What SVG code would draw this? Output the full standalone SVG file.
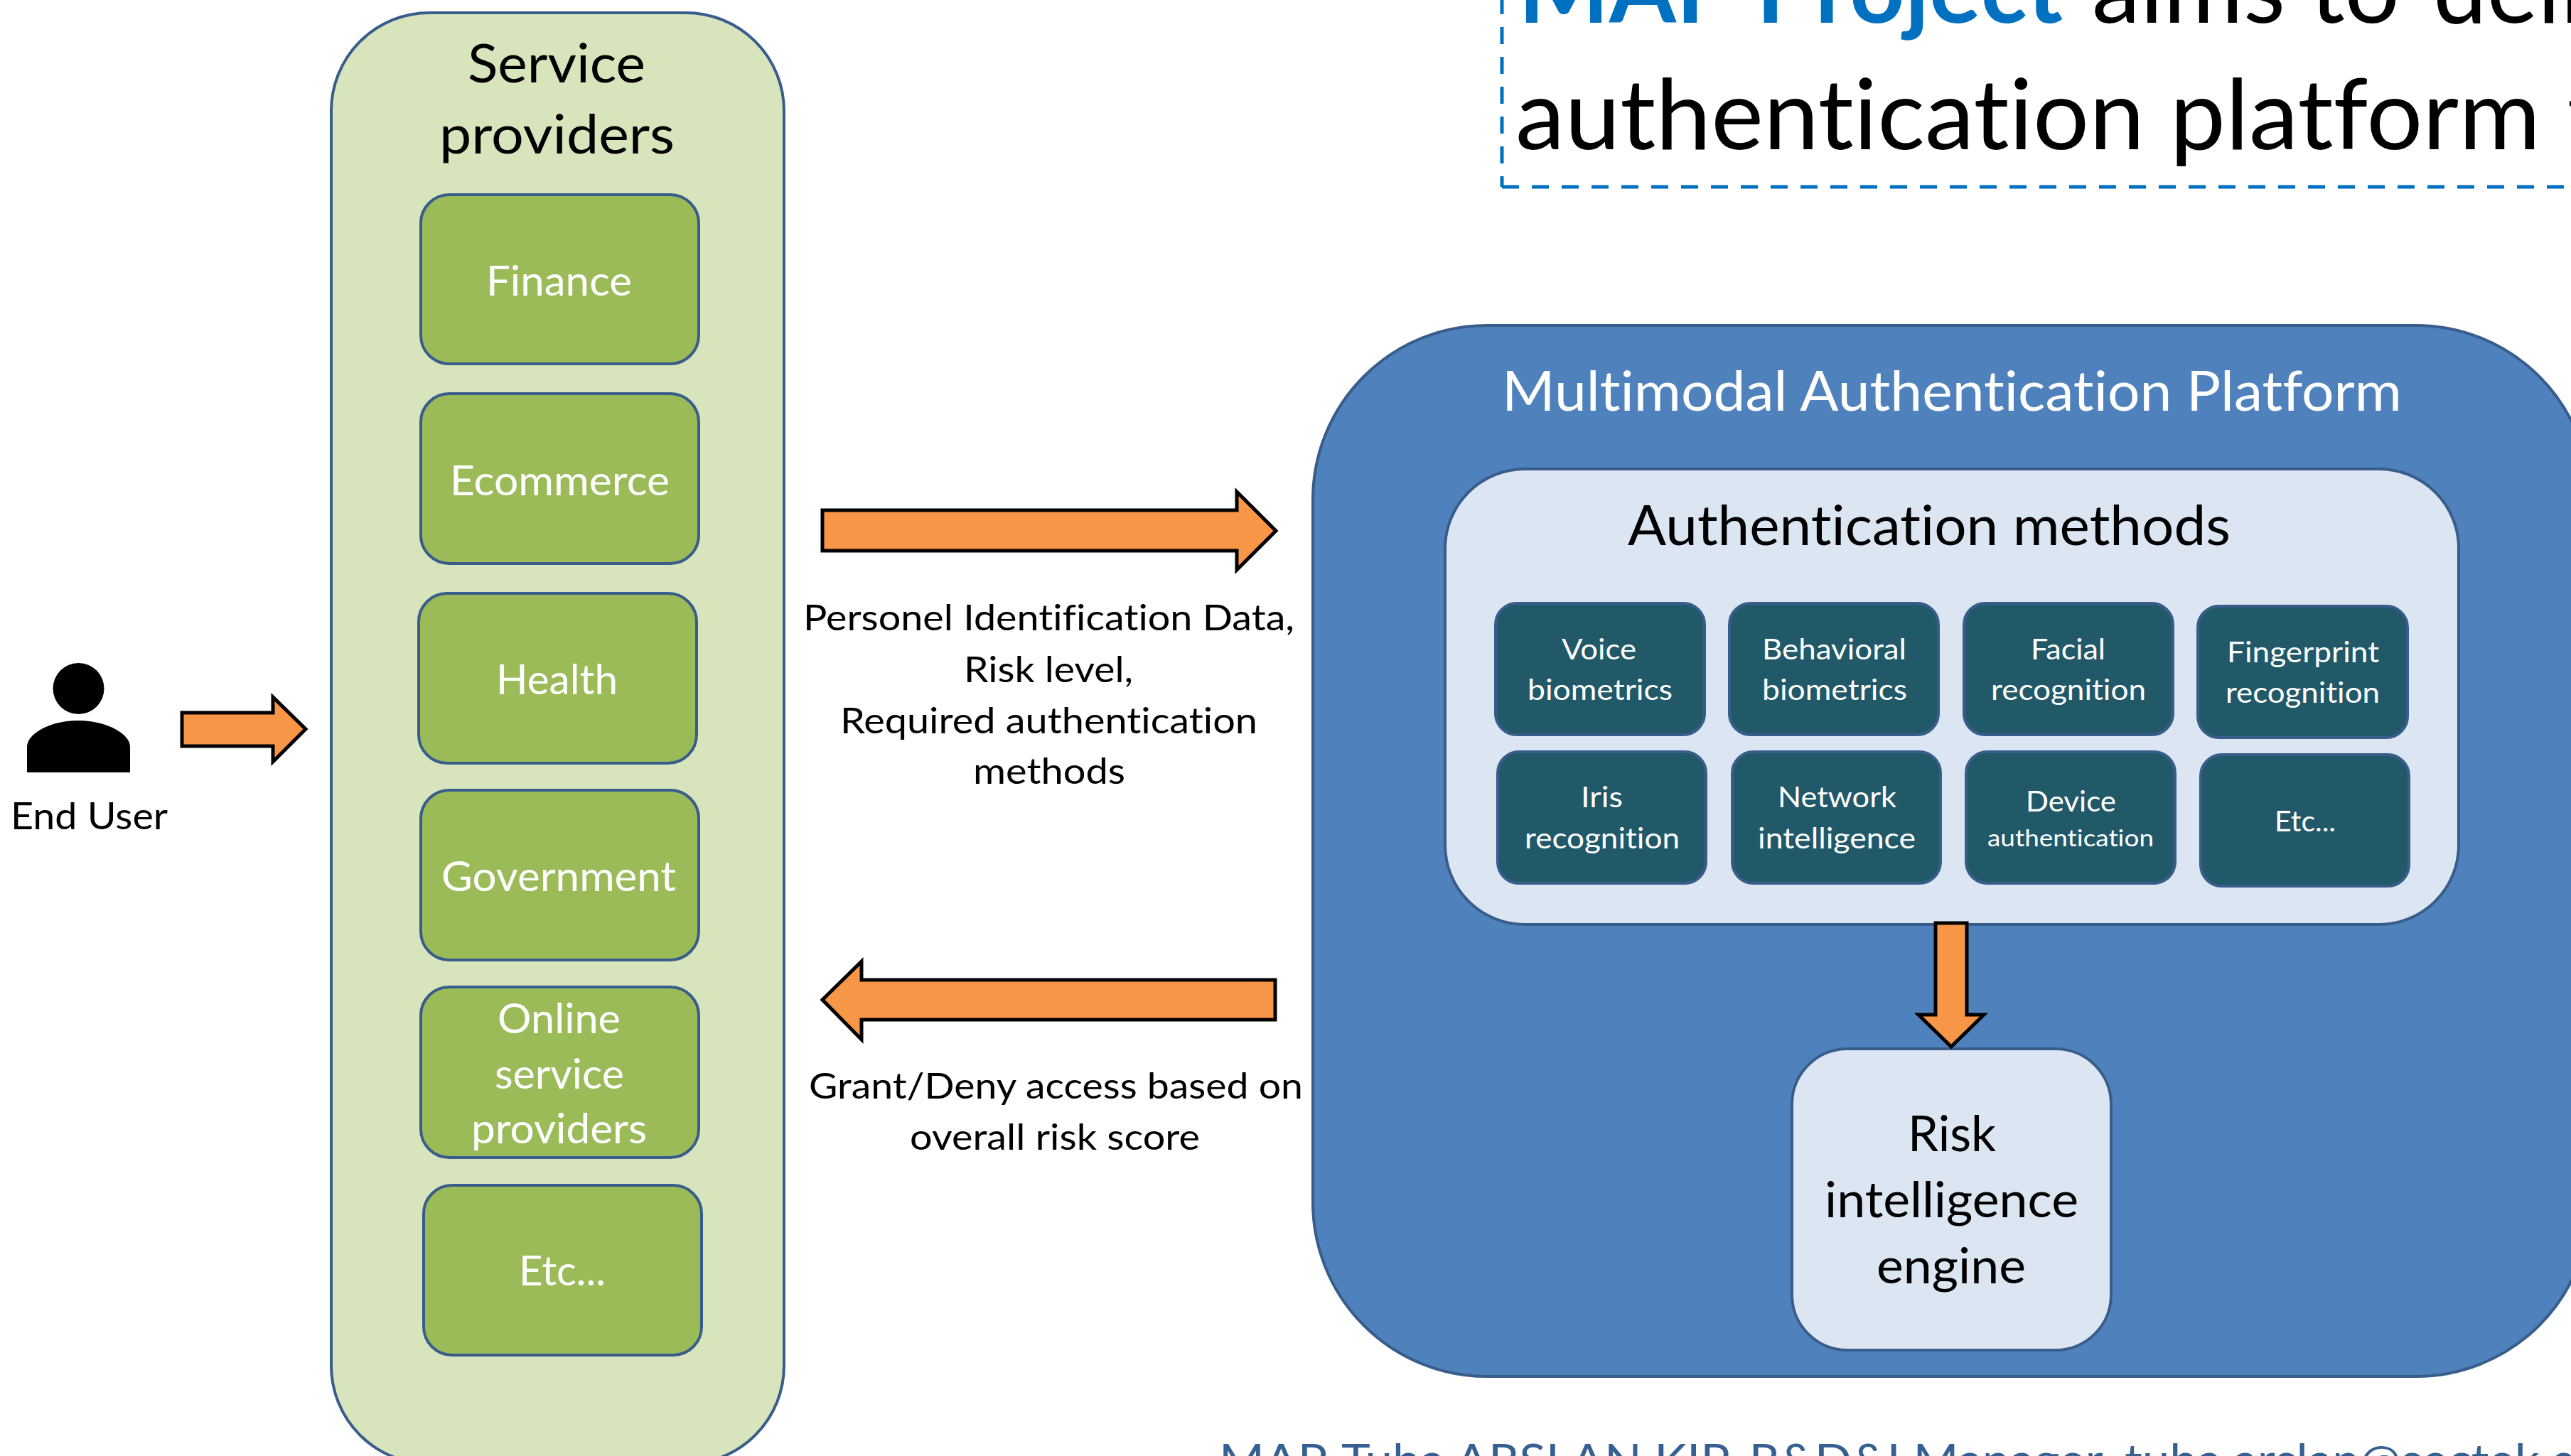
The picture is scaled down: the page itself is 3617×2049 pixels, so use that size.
<svg xmlns="http://www.w3.org/2000/svg" width="3617" height="2049" viewBox="0 0 3617 2049">
<style>
text{font-family:"Lato","Carlito","Noto Sans",sans-serif;fill:#000;font-variant-ligatures:none;font-feature-settings:"liga" 0,"clig" 0}
.w{fill:#fff}
.panel{stroke:#385d8a;stroke-width:4}
.green{fill:#9bbb59;stroke:#385d8a;stroke-width:4}
.teal{fill:#215968;stroke:#385d8a;stroke-width:4}
.light{fill:#dce6f2;stroke:#385d8a;stroke-width:4}
.arrow{fill:#f79646;stroke:#000;stroke-width:5}
.g{font-size:58px}
.t{font-size:41px}
.s{font-size:51px}
.dash{fill:none;stroke:#0070c0;stroke-width:5;stroke-dasharray:24 18}
</style>
<rect width="3617" height="2049" fill="#fff"/>
<g id="title">
<path class="dash" d="M2113 -4V263"/>
<path class="dash" d="M2113 263H3640"/>
<text x="2136" y="32" font-size="138" font-weight="700" style="fill:#0070c0" textLength="766" lengthAdjust="spacingAndGlyphs">MAP Project</text>
<text x="2943" y="32" font-size="138" textLength="433" lengthAdjust="spacingAndGlyphs">aims to</text>
<text x="3423" y="32" font-size="138" textLength="400" lengthAdjust="spacingAndGlyphs">deliver</text>
<text x="2132" y="210" font-size="138" textLength="1442" lengthAdjust="spacingAndGlyphs">authentication platform</text>
<text x="3612" y="210" font-size="138">that</text>
</g>
<g id="end-user">
<ellipse cx="110.500" cy="969" rx="36" ry="36"/>
<path d="M38 1087V1051C38 1032 72 1014 110 1014C148 1014 183 1032 183 1051V1087Z"/>
<text x="15" y="1167" font-size="53" textLength="221" lengthAdjust="spacingAndGlyphs">End User</text>
</g>
<g id="service-providers">
<rect x="466" y="18" width="637" height="2042" rx="138" fill="#d8e4bc" class="panel"/>
<text x="658" y="116" font-size="75" textLength="250" lengthAdjust="spacingAndGlyphs">Service</text>
<text x="618" y="216" font-size="75" textLength="331" lengthAdjust="spacingAndGlyphs">providers</text>
</g>
<g id="finance"><rect x="592" y="274" width="391" height="238" rx="40" class="green"/><text class="w g" x="684" y="416" textLength="205" lengthAdjust="spacingAndGlyphs">Finance</text></g>
<g id="ecommerce"><rect x="592" y="554" width="391" height="239" rx="40" class="green"/><text class="w g" x="633" y="697" textLength="309" lengthAdjust="spacingAndGlyphs">Ecommerce</text></g>
<g id="health"><rect x="589" y="835" width="391" height="239" rx="40" class="green"/><text class="w g" x="698" y="977" textLength="171" lengthAdjust="spacingAndGlyphs">Health</text></g>
<g id="government"><rect x="592" y="1112" width="391" height="239" rx="40" class="green"/><text class="w g" x="621" y="1254" textLength="330" lengthAdjust="spacingAndGlyphs">Government</text></g>
<g id="online"><rect x="592" y="1389" width="391" height="240" rx="40" class="green"/>
<text class="w g" x="700" y="1454" textLength="173" lengthAdjust="spacingAndGlyphs">Online</text>
<text class="w g" x="696" y="1532" textLength="182" lengthAdjust="spacingAndGlyphs">service</text>
<text class="w g" x="663" y="1609" textLength="247" lengthAdjust="spacingAndGlyphs">providers</text></g>
<g id="etc-service"><rect x="596" y="1668" width="391" height="239" rx="40" class="green"/><text class="w g" x="730" y="1809" textLength="122" lengthAdjust="spacingAndGlyphs">Etc...</text></g>
<g id="platform">
<rect x="1847" y="458" width="1797" height="1479" rx="245" fill="#4f81bd" class="panel"/>
<text class="w" x="2113" y="578" font-size="78" textLength="1266" lengthAdjust="spacingAndGlyphs">Multimodal Authentication Platform</text>
</g>
<g id="auth-methods">
<rect x="2033" y="660" width="1426" height="641" rx="112" class="light"/>
<text x="2290" y="767" font-size="77" textLength="848" lengthAdjust="spacingAndGlyphs">Authentication methods</text>
</g>
<g id="voice"><rect x="2104" y="849" width="294" height="185" rx="30" class="teal"/><text class="w t" x="2197" y="928" textLength="105" lengthAdjust="spacingAndGlyphs">Voice</text><text class="w t" x="2149" y="985" textLength="204" lengthAdjust="spacingAndGlyphs">biometrics</text></g>
<g id="behavioral"><rect x="2433" y="849" width="294" height="185" rx="30" class="teal"/><text class="w t" x="2479" y="928" textLength="203" lengthAdjust="spacingAndGlyphs">Behavioral</text><text class="w t" x="2479" y="985" textLength="204" lengthAdjust="spacingAndGlyphs">biometrics</text></g>
<g id="facial"><rect x="2763" y="849" width="294" height="185" rx="30" class="teal"/><text class="w t" x="2857" y="928" textLength="105" lengthAdjust="spacingAndGlyphs">Facial</text><text class="w t" x="2801" y="985" textLength="218" lengthAdjust="spacingAndGlyphs">recognition</text></g>
<g id="fingerprint"><rect x="3092" y="853" width="295" height="185" rx="30" class="teal"/><text class="w t" x="3133" y="932" textLength="214" lengthAdjust="spacingAndGlyphs">Fingerprint</text><text class="w t" x="3131" y="989" textLength="217" lengthAdjust="spacingAndGlyphs">recognition</text></g>
<g id="iris"><rect x="2107" y="1058" width="293" height="185" rx="30" class="teal"/><text class="w t" x="2224" y="1136" textLength="59" lengthAdjust="spacingAndGlyphs">Iris</text><text class="w t" x="2145" y="1194" textLength="218" lengthAdjust="spacingAndGlyphs">recognition</text></g>
<g id="network"><rect x="2437" y="1058" width="293" height="185" rx="30" class="teal"/><text class="w t" x="2501" y="1136" textLength="167" lengthAdjust="spacingAndGlyphs">Network</text><text class="w t" x="2473" y="1194" textLength="222" lengthAdjust="spacingAndGlyphs">intelligence</text></g>
<g id="device"><rect x="2766" y="1058" width="294" height="185" rx="30" class="teal"/><text class="w t" x="2850" y="1142" textLength="127" lengthAdjust="spacingAndGlyphs">Device</text><text class="w" x="2796" y="1191" font-size="33" textLength="234" lengthAdjust="spacingAndGlyphs">authentication</text></g>
<g id="etc-auth"><rect x="3096" y="1062" width="293" height="185" rx="30" class="teal"/><text class="w t" x="3200" y="1170" textLength="86" lengthAdjust="spacingAndGlyphs">Etc...</text></g>
<g id="risk-engine">
<rect x="2521" y="1476" width="449" height="424" rx="78" class="light"/>
<text x="2684" y="1620" font-size="69" textLength="124" lengthAdjust="spacingAndGlyphs">Risk</text>
<text x="2567" y="1713" font-size="69" textLength="357" lengthAdjust="spacingAndGlyphs">intelligence</text>
<text x="2640" y="1806" font-size="69" textLength="210" lengthAdjust="spacingAndGlyphs">engine</text>
</g>
<g id="connectors">
<path class="arrow" d="M256 1003H384V981L430 1026L384 1072V1050H256Z"/>
<path class="arrow" d="M1157 718H1740V692L1795 747L1740 802V775H1157Z"/>
<path class="arrow" d="M1794 1379H1212V1353L1157 1407L1212 1463V1435H1794Z"/>
<path class="arrow" d="M2723 1299H2767V1428H2791L2745 1473L2699 1428H2723Z"/>
</g>
<g id="labels">
<text class="s" x="1130" y="887" textLength="691" lengthAdjust="spacingAndGlyphs">Personel Identification Data,</text>
<text class="s" x="1356" y="960" textLength="238" lengthAdjust="spacingAndGlyphs">Risk level,</text>
<text class="s" x="1182" y="1032" textLength="587" lengthAdjust="spacingAndGlyphs">Required authentication</text>
<text class="s" x="1369" y="1103" textLength="214" lengthAdjust="spacingAndGlyphs">methods</text>
<text class="s" x="1138" y="1546" textLength="695" lengthAdjust="spacingAndGlyphs">Grant/Deny access based on</text>
<text class="s" x="1280" y="1618" textLength="408" lengthAdjust="spacingAndGlyphs">overall risk score</text>
</g>
<g id="footer">
<text x="1715" y="2078" font-size="63" style="fill:#376092" textLength="1874" lengthAdjust="spacingAndGlyphs">MAP-Tuba ARSLAN KIP, R&amp;D&amp;I Manager, tuba.arslan@sectek.</text>
<text x="3589" y="2078" font-size="63" style="fill:#376092">com.tr</text>
</g>
</svg>
